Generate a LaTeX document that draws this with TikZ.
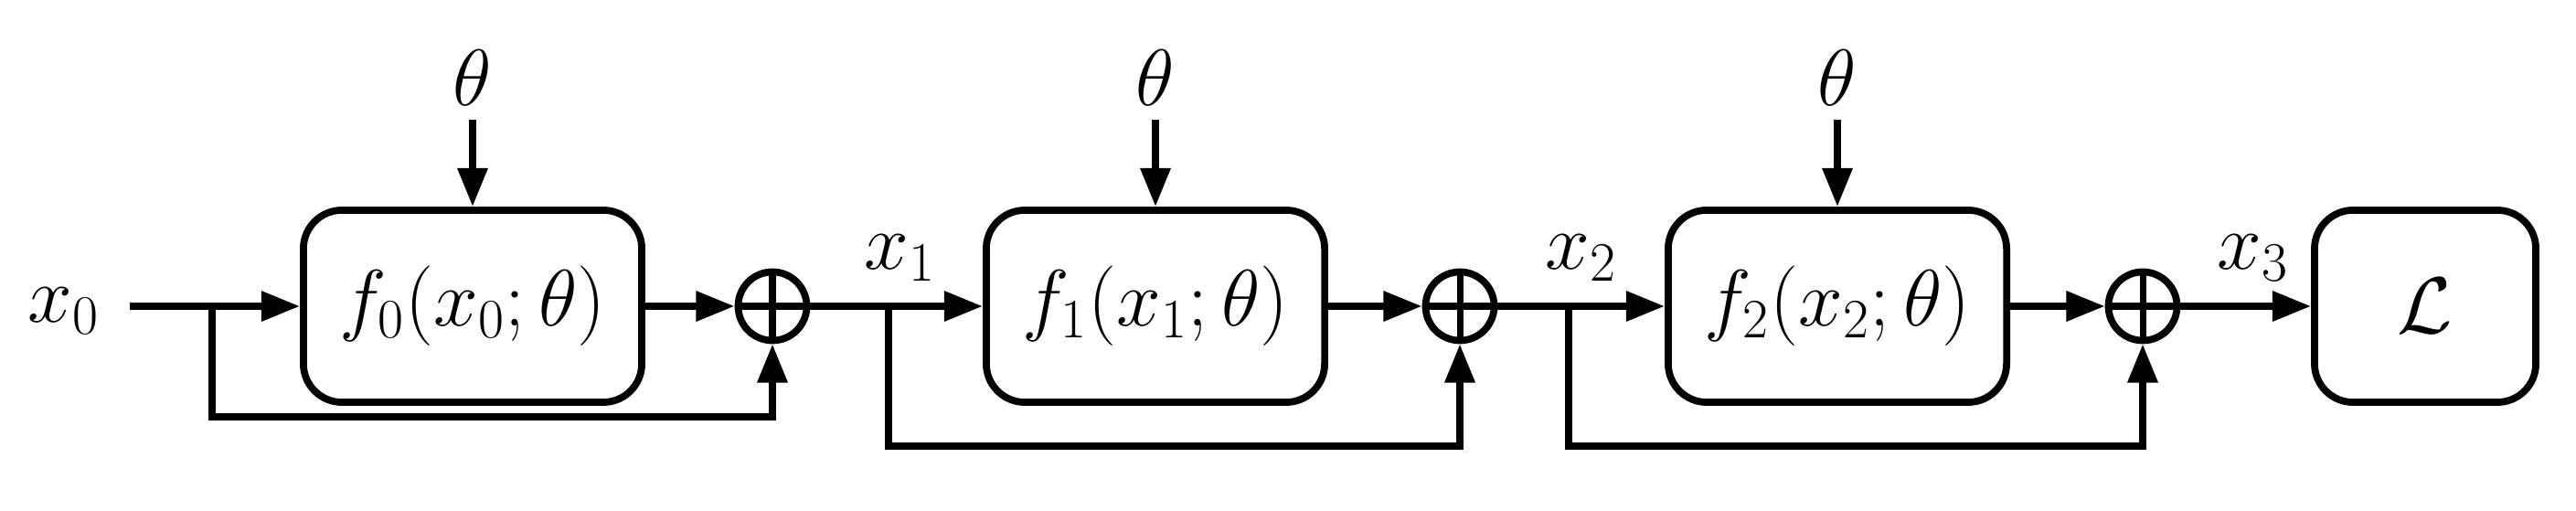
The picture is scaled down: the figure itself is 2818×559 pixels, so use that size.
\documentclass[tikz,border=0pt]{standalone}
\usetikzlibrary{arrows.meta}
\begin{document}
\begin{tikzpicture}[x=0.01cm,y=-0.01cm,line width=2.2pt,
  blk/.style={draw,rounded corners=12pt,minimum width=3.7cm,minimum height=2.1cm,inner sep=0pt},
  lbl/.style={font=\fontsize{26}{30}\selectfont},
  sum/.style={draw,circle,minimum size=0.75cm,inner sep=0pt,path picture={\draw[line width=2pt] (path picture bounding box.north)--(path picture bounding box.south) (path picture bounding box.west)--(path picture bounding box.east);}},
  arr/.style={-{Triangle[length=12pt,width=9pt]}}]
\useasboundingbox (0,0) rectangle (2818,559);
\node[blk,lbl] (b0) at (517,335) {$f_0(x_0;\theta)$};
\node[blk,lbl] (b1) at (1264,335) {$f_1(x_1;\theta)$};
\node[blk,lbl] (b2) at (2010,335) {$f_2(x_2;\theta)$};
\node[blk,lbl,minimum width=2.42cm] (L) at (2653,335) {$\mathcal{L}$};
\node[sum] (s0) at (845,335) {};
\node[sum] (s1) at (1597,335) {};
\node[sum] (s2) at (2344,335) {};
\node[lbl] (t0) at (517,85) {$\theta$};
\node[lbl] (t1) at (1264,85) {$\theta$};
\node[lbl] (t2) at (2010,85) {$\theta$};
\node[lbl] (x0) at (70,340) {$x_0$};
\node[lbl] (x1) at (985,282) {$x_1$};
\node[lbl] (x2) at (1730,282) {$x_2$};
\node[lbl] (x3) at (2465,282) {$x_3$};
\coordinate (in) at (142,335);
\draw[arr] (t0) -- (b0);
\draw[arr] (t1) -- (b1);
\draw[arr] (t2) -- (b2);
\draw[arr] (in) -- (b0);
\draw[arr] (b0) -- (s0);
\draw[arr] (s0) -- (b1);
\draw[arr] (b1) -- (s1);
\draw[arr] (s1) -- (b2);
\draw[arr] (b2) -- (s2);
\draw[arr] (s2) -- (L);
\draw[arr] (232,335) |- (845,456) -- (s0);
\draw[arr] (972,335) |- (1597,488) -- (s1);
\draw[arr] (1716,335) |- (2344,488) -- (s2);
\end{tikzpicture}
\end{document}
